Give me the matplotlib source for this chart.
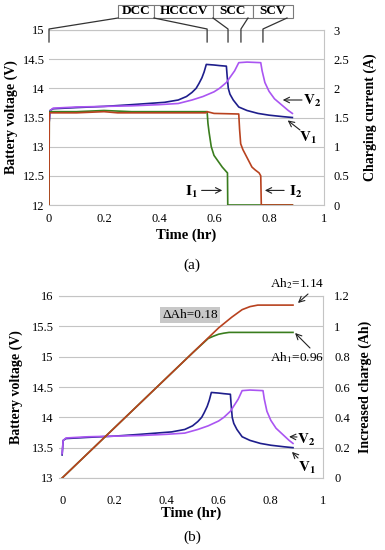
import matplotlib
matplotlib.use('Agg')
import matplotlib.pyplot as plt
from matplotlib.lines import Line2D
from matplotlib.patches import Rectangle

plt.rcParams['font.family'] = ['Liberation Serif', 'DejaVu Serif']
plt.rcParams['mathtext.fontset'] = 'stix'

# 电压曲线 V1 / V2 (时间 hr, 电压 V)
v1_t = [0, 0.004, 0.015, 0.1, 0.2, 0.3, 0.36, 0.42, 0.47, 0.5, 0.52, 0.535, 0.545, 0.556, 0.564,
        0.572, 0.6, 0.62, 0.645, 0.648, 0.652, 0.658, 0.67, 0.69, 0.72, 0.76, 0.8, 0.85, 0.885]
v1_v = [13.38, 13.62, 13.65, 13.67, 13.69, 13.72, 13.74, 13.76, 13.8, 13.86, 13.93, 14.0, 14.08, 14.18, 14.28,
        14.41, 14.4, 14.39, 14.38, 14.2, 14.0, 13.9, 13.8, 13.68, 13.62, 13.57, 13.54, 13.515, 13.5]
v2_t = [0, 0.004, 0.015, 0.1, 0.2, 0.3, 0.4, 0.47, 0.52, 0.56, 0.6, 0.62, 0.645, 0.66, 0.675,
        0.69, 0.72, 0.77, 0.775, 0.785, 0.8, 0.82, 0.85, 0.87, 0.885]
v2_v = [13.4, 13.62, 13.66, 13.68, 13.69, 13.7, 13.72, 13.74, 13.8, 13.86, 13.94, 14.0, 14.1, 14.2, 14.3,
        14.44, 14.45, 14.44, 14.3, 14.1, 13.95, 13.82, 13.7, 13.62, 13.57]

# 充电电流 I1 / I2 (A)
i1_t = [0, 0.001, 0.1, 0.2, 0.3, 0.4, 0.5, 0.575, 0.578, 0.582, 0.59, 0.6, 0.615, 0.63, 0.645, 0.649, 0.65, 0.885]
i1_v = [0, 1.6, 1.6, 1.62, 1.6, 1.6, 1.6, 1.6, 1.4, 1.25, 1.0, 0.85, 0.75, 0.65, 0.57, 0.55, 0, 0]
i2_t = [0, 0.001, 0.1, 0.2, 0.25, 0.5, 0.57, 0.575, 0.6, 0.69, 0.693, 0.697, 0.705, 0.716, 0.727, 0.738,
        0.75, 0.764, 0.77, 0.772, 0.885]
i2_v = [0, 1.58, 1.58, 1.6, 1.58, 1.58, 1.58, 1.6, 1.57, 1.56, 1.3, 1.05, 0.95, 0.85, 0.75, 0.65,
        0.6, 0.55, 0.5, 0, 0]

# 累计充电量 Ah1 / Ah2
ah1_t = [0, 0.1, 0.2, 0.3, 0.4, 0.5, 0.56, 0.58, 0.6, 0.62, 0.64, 0.885]
ah1_v = [0, 0.165, 0.33, 0.495, 0.66, 0.825, 0.92, 0.935, 0.948, 0.955, 0.96, 0.96]
ah2_t = [0, 0.1, 0.2, 0.3, 0.4, 0.5, 0.6, 0.65, 0.69, 0.72, 0.75, 0.885]
ah2_v = [0, 0.165, 0.33, 0.495, 0.66, 0.825, 0.99, 1.06, 1.11, 1.13, 1.14, 1.14]

# 阶段分界 (hr)
phase_names = ['DCC', 'HCCCV', 'SCC', 'SCV']
phase_t = [0, 0.575, 0.651, 0.698, 0.778]

x_ticks = [0, 0.2, 0.4, 0.6, 0.8, 1]
x_labels = ['0', '0.2', '0.4', '0.6', '0.8', '1']

c_v1 = '#1e1e8c'
c_v2 = '#aa55f2'
c_i1 = '#3a7d1e'
c_i2 = '#b8421f'
grid_c = '#c4c4c4'

W, H = 385, 550
fig = plt.figure(figsize=(W / 100, H / 100), dpi=100)


def rect(l, t, r, b):
    return [l / W, 1 - b / H, (r - l) / W, (b - t) / H]


def fp(x, y):
    return (x / W, 1 - y / H)


def style_axes(ax, ax2, ylabel, y2label, xpad, lpad, rpad, xlpad):
    ax.set_xticks(x_ticks)
    ax.set_xticklabels(x_labels)
    ax.grid(axis='y', color=grid_c, lw=0.8)
    ax.set_axisbelow(True)
    ax.tick_params(length=0, labelsize=9)
    ax.tick_params(axis='x', pad=xpad)
    ax.tick_params(axis='y', pad=lpad)
    ax2.tick_params(length=0, labelsize=9, pad=rpad)
    for s in ax.spines.values():
        s.set_color(grid_c)
        s.set_linewidth(0.8)
    ax.spines['left'].set_visible(False)
    for s in ax2.spines.values():
        s.set_visible(False)
    ax.set_xlabel('Time (hr)', fontsize=10.5, fontweight='bold', labelpad=xlpad)
    ax.set_ylabel(ylabel, fontsize=10, fontweight='bold')
    ax2.set_ylabel(y2label, fontsize=10, fontweight='bold')


arrow = dict(arrowstyle='->', lw=0.8, color='#222222', shrinkA=0, shrinkB=0)

# ---------- (a) ----------
ax1 = fig.add_axes(rect(49, 30, 324, 205))
ax1b = ax1.twinx()
ax1.set_xlim(0, 1)
ax1.set_ylim(12, 15)
ax1.set_yticks([12, 12.5, 13, 13.5, 14, 14.5, 15])
ax1.set_yticklabels(['12', '12.5', '13', '13.5', '14', '14.5', '15'])
ax1b.set_ylim(0, 3)
ax1b.set_yticks([0, 0.5, 1, 1.5, 2, 2.5, 3])
ax1b.set_yticklabels(['0', '0.5', '1', '1.5', '2', '2.5', '3'])
ax1.plot(v1_t, v1_v, color=c_v1, lw=1.2)
ax1.plot(v2_t, v2_v, color=c_v2, lw=1.2)
ax1b.plot(i1_t, i1_v, color=c_i1, lw=1.2)
ax1b.plot(i2_t, i2_v, color=c_i2, lw=1.2)
style_axes(ax1, ax1b, 'Battery voltage (V)', 'Charging current (A)', 6, 3, 7, 2)
ax1.yaxis.set_label_coords(-0.113, 0.5)
ax1b.yaxis.set_label_coords(1.142, 0.5)

# 阶段标注框
box_x = [118, 154, 213, 253, 293]
for k, name in enumerate(phase_names):
    x0, x1 = box_x[k], box_x[k + 1]
    fig.add_artist(Rectangle(fp(x0, 18), (x1 - x0) / W, 13 / H, transform=fig.transFigure,
                             facecolor='white', edgecolor='#7a7a7a', lw=0.8))
    fig.text(*fp((x0 + x1) / 2, 11.5), name, ha='center', va='center', fontsize=9.5, fontweight='bold')


def stem_x(t):
    return ax1.transData.transform((t, 15))[0] / fig.dpi / fig.get_figwidth() * W


starts = [118, 154, 213, 248, 287]
for sx, t in zip(starts, phase_t):
    xs = stem_x(t)
    xs_f = [sx / W, xs / W, xs / W]
    ys_f = [1 - 18 / H, 1 - 29 / H, 1 - 42 / H]
    fig.add_artist(Line2D(xs_f, ys_f, transform=fig.transFigure, color='#333333', lw=0.9))

ax1.annotate('', xy=(0.85, 13.8), xytext=fp(302, 100), textcoords='figure fraction', arrowprops=arrow)
fig.text(*fp(312, 101), r'$\mathbf{V}_\mathbf{2}$', ha='center', va='center', fontsize=11)
ax1.annotate('', xy=(0.868, 13.45), xytext=fp(300, 130), textcoords='figure fraction', arrowprops=arrow)
fig.text(*fp(308, 138), r'$\mathbf{V}_\mathbf{1}$', ha='center', va='center', fontsize=11)
ax1b.annotate('', xy=(0.63, 0.25), xytext=(0.555, 0.25), arrowprops=arrow)
fig.text(*fp(191, 192), r'$\mathbf{I}_\mathbf{1}$', ha='center', va='center', fontsize=11)
ax1b.annotate('', xy=(0.785, 0.25), xytext=(0.855, 0.25), arrowprops=arrow)
fig.text(*fp(296, 192), r'$\mathbf{I}_\mathbf{2}$', ha='center', va='center', fontsize=11)
fig.text(*fp(192, 265), '(a)', ha='center', va='center', fontsize=11)

# ---------- (b) ----------
ax2 = fig.add_axes(rect(59, 296, 323, 478))
ax2b = ax2.twinx()
ax2.set_xlim(-0.012, 1)
ax2.set_ylim(13, 16)
ax2.set_yticks([13, 13.5, 14, 14.5, 15, 15.5, 16])
ax2.set_yticklabels(['13', '13.5', '14', '14.5', '15', '15.5', '16'])
ax2b.set_ylim(0, 1.2)
ax2b.set_yticks([0, 0.2, 0.4, 0.6, 0.8, 1, 1.2])
ax2b.set_yticklabels(['0', '0.2', '0.4', '0.6', '0.8', '1', '1.2'])
ax2.plot(v1_t, v1_v, color=c_v1, lw=1.2)
ax2.plot(v2_t, v2_v, color=c_v2, lw=1.2)
ax2b.plot(ah1_t, ah1_v, color=c_i1, lw=1.2)
ax2b.plot(ah2_t, ah2_v, color=c_i2, lw=1.2)
style_axes(ax2, ax2b, 'Battery voltage (V)', 'Increased charge (Ah)', 12, 4, 8, 0)
ax2.yaxis.set_label_coords(-0.136, 0.5)
ax2b.yaxis.set_label_coords(1.133, 0.5)

fig.text(*fp(297, 284), r'Ah$_2$=1.14', ha='center', va='center', fontsize=9.5)
ax2b.annotate('', xy=(0.904, 1.154), xytext=fp(308, 294), textcoords='figure fraction', arrowprops=arrow)
fig.text(*fp(297, 358), r'Ah$_1$=0.96', ha='center', va='center', fontsize=9.5)
ax2b.annotate('', xy=(0.893, 0.956), xytext=fp(310, 348), textcoords='figure fraction', arrowprops=arrow)
fig.text(*fp(190, 315), r'ΔAh=0.18', ha='center', va='center', fontsize=9.5,
         bbox=dict(boxstyle='square,pad=0.15', facecolor='#c8c8c8', edgecolor='none'))
ax2.annotate('', xy=(0.87, 13.68), xytext=fp(297, 437), textcoords='figure fraction', arrowprops=arrow)
fig.text(*fp(306, 440), r'$\mathbf{V}_\mathbf{2}$', ha='center', va='center', fontsize=11)
ax2.annotate('', xy=(0.881, 13.43), xytext=fp(298, 458), textcoords='figure fraction', arrowprops=arrow)
fig.text(*fp(307, 468), r'$\mathbf{V}_\mathbf{1}$', ha='center', va='center', fontsize=11)
fig.text(*fp(192, 537), '(b)', ha='center', va='center', fontsize=11)

fig.savefig('out.png', dpi=100)
